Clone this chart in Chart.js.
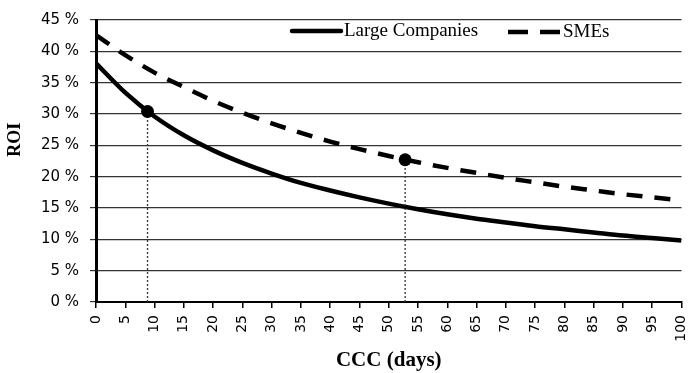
<!DOCTYPE html>
<html>
<head>
<meta charset="utf-8">
<script src="https://cdn.jsdelivr.net/npm/chart.js@4/dist/chart.umd.min.js"></script>
<style>
  html, body { margin: 0; padding: 0; background: #fff; }
  #wrap { width: 688px; height: 373px; position: relative; }
</style>
</head>
<body>
<div id="wrap"><canvas id="c" width="688" height="373"></canvas></div>
<script>
// ---- data ----
const cccDays = [0, 5, 10, 15, 20, 25, 30, 35, 40, 45, 50, 55, 60, 65, 70, 75, 80, 85, 90, 95, 100];
const largeCompanies = [38.1, 33.4, 29.6, 26.6, 24.2, 22.2, 20.5, 19.0, 17.8, 16.7, 15.7, 14.8, 14.0, 13.3, 12.7, 12.1, 11.6, 11.1, 10.6, 10.2, 9.8];
const smes = [42.6, 39.4, 36.6, 34.3, 32.1, 30.2, 28.5, 27.0, 25.6, 24.4, 23.3, 22.3, 21.4, 20.6, 19.8, 19.1, 18.4, 17.8, 17.2, 16.7, 16.2];
const markerDays = [8.8, 52.8];
const markerRoi = [30.4, 22.7];
const seriesNames = ['Large Companies', 'SMEs'];
const xTitle = 'CCC (days)';
const yTitle = 'ROI';

const toPts = (ys) => cccDays.map((d, i) => ({ x: d, y: ys[i] }));

const dropDatasets = markerDays.map((d, i) => ({
  label: 'drop' + i,
  data: [{ x: d, y: 0 }, { x: d, y: markerRoi[i] }],
  borderColor: '#333',
  backgroundColor: '#000',
  borderWidth: 1.3,
  borderDash: [2, 2],
  pointRadius: [0, 6.5],
  pointBackgroundColor: '#000',
  pointBorderWidth: 0,
  order: 0
}));

const legendPlugin = {
  id: 'customLegend',
  afterDraw(chart) {
    const ctx = chart.ctx;
    const a = chart.chartArea;
    const y = a.top + 11;
    ctx.save();
    ctx.strokeStyle = '#000';
    ctx.lineWidth = 4.5;
    ctx.lineCap = 'round';
    ctx.beginPath();
    ctx.moveTo(a.left + 196, y);
    ctx.lineTo(a.left + 245, y);
    ctx.stroke();
    ctx.lineCap = 'butt';
    ctx.beginPath();
    ctx.moveTo(a.left + 412, y + 1); ctx.lineTo(a.left + 432, y + 1);
    ctx.moveTo(a.left + 444, y + 1); ctx.lineTo(a.left + 464, y + 1);
    ctx.stroke();
    ctx.fillStyle = '#000';
    ctx.font = '19px "Liberation Serif", serif';
    ctx.textBaseline = 'middle';
    ctx.textAlign = 'left';
    ctx.fillText(seriesNames[0], a.left + 248, y);
    ctx.fillText(seriesNames[1], a.left + 467, y + 1);
    ctx.restore();
  }
};

// keep the rotated y title a little above centre, as in the reference
const yTitlePlugin = {
  id: 'yTitleShift',
  beforeDraw(chart) {
    const s = chart.scales.y;
    s.options.title.display = false;
  },
  afterDraw(chart) {
    const s = chart.scales.y;
    const a = chart.chartArea;
    const ctx = chart.ctx;
    ctx.save();
    ctx.translate(15, a.top + (a.bottom - a.top) * 0.425);
    ctx.rotate(-Math.PI / 2);
    ctx.font = 'bold 18px "Liberation Serif", serif';
    ctx.fillStyle = '#000';
    ctx.textAlign = 'center';
    ctx.textBaseline = 'middle';
    ctx.fillText(yTitle, 0, 0);
    ctx.restore();
  }
};

new Chart(document.getElementById('c'), {
  type: 'line',
  data: {
    datasets: [
      ...dropDatasets,
      {
        label: seriesNames[0],
        data: toPts(largeCompanies),
        borderColor: '#000',
        borderWidth: 4.5,
        pointRadius: 0,
        cubicInterpolationMode: 'monotone',
        order: 1
      },
      {
        label: seriesNames[1],
        data: toPts(smes),
        borderColor: '#000',
        borderWidth: 4.5,
        borderDash: [16, 12],
        pointRadius: 0,
        cubicInterpolationMode: 'monotone',
        order: 2
      }
    ]
  },
  options: {
    responsive: false,
    animation: false,
    devicePixelRatio: 1,
    layout: { padding: { top: 17, right: 5, left: 0, bottom: 0 } },
    plugins: {
      legend: { display: false },
      tooltip: { enabled: false }
    },
    scales: {
      x: {
        type: 'linear',
        min: 0,
        max: 100,
        afterFit(s) { s.height = 71; s.paddingLeft = 0; s.paddingRight = 0; },
        ticks: {
          stepSize: 5,
          autoSkip: false,
          minRotation: 90,
          maxRotation: 90,
          padding: 7,
          color: '#000',
          font: { family: '"DejaVu Sans", sans-serif', size: 14 }
        },
        grid: { drawOnChartArea: false, drawTicks: true, tickLength: 6, color: '#000', lineWidth: 1.5 },
        border: { display: true, color: '#000', width: 2 },
        title: {
          display: true,
          text: xTitle,
          color: '#000',
          padding: { top: 0, bottom: 0 },
          font: { family: '"Liberation Serif", serif', size: 21, weight: 'bold' }
        }
      },
      y: {
        min: 0,
        max: 45,
        afterFit(s) { s.width = 96; },
        ticks: {
          stepSize: 5,
          padding: 11,
          color: '#000',
          font: { family: '"DejaVu Sans", sans-serif', size: 15 },
          callback: (v) => v + ' %'
        },
        grid: { drawOnChartArea: true, drawTicks: true, tickLength: 6, color: '#333', lineWidth: 1.2 },
        border: { display: true, color: '#000', width: 3 },
        title: {
          display: true,
          text: yTitle,
          color: '#000',
          padding: { top: 5, bottom: 0 },
          font: { family: '"Liberation Serif", serif', size: 18, weight: 'bold' }
        }
      }
    }
  },
  plugins: [legendPlugin, yTitlePlugin]
});
</script>
</body>
</html>
